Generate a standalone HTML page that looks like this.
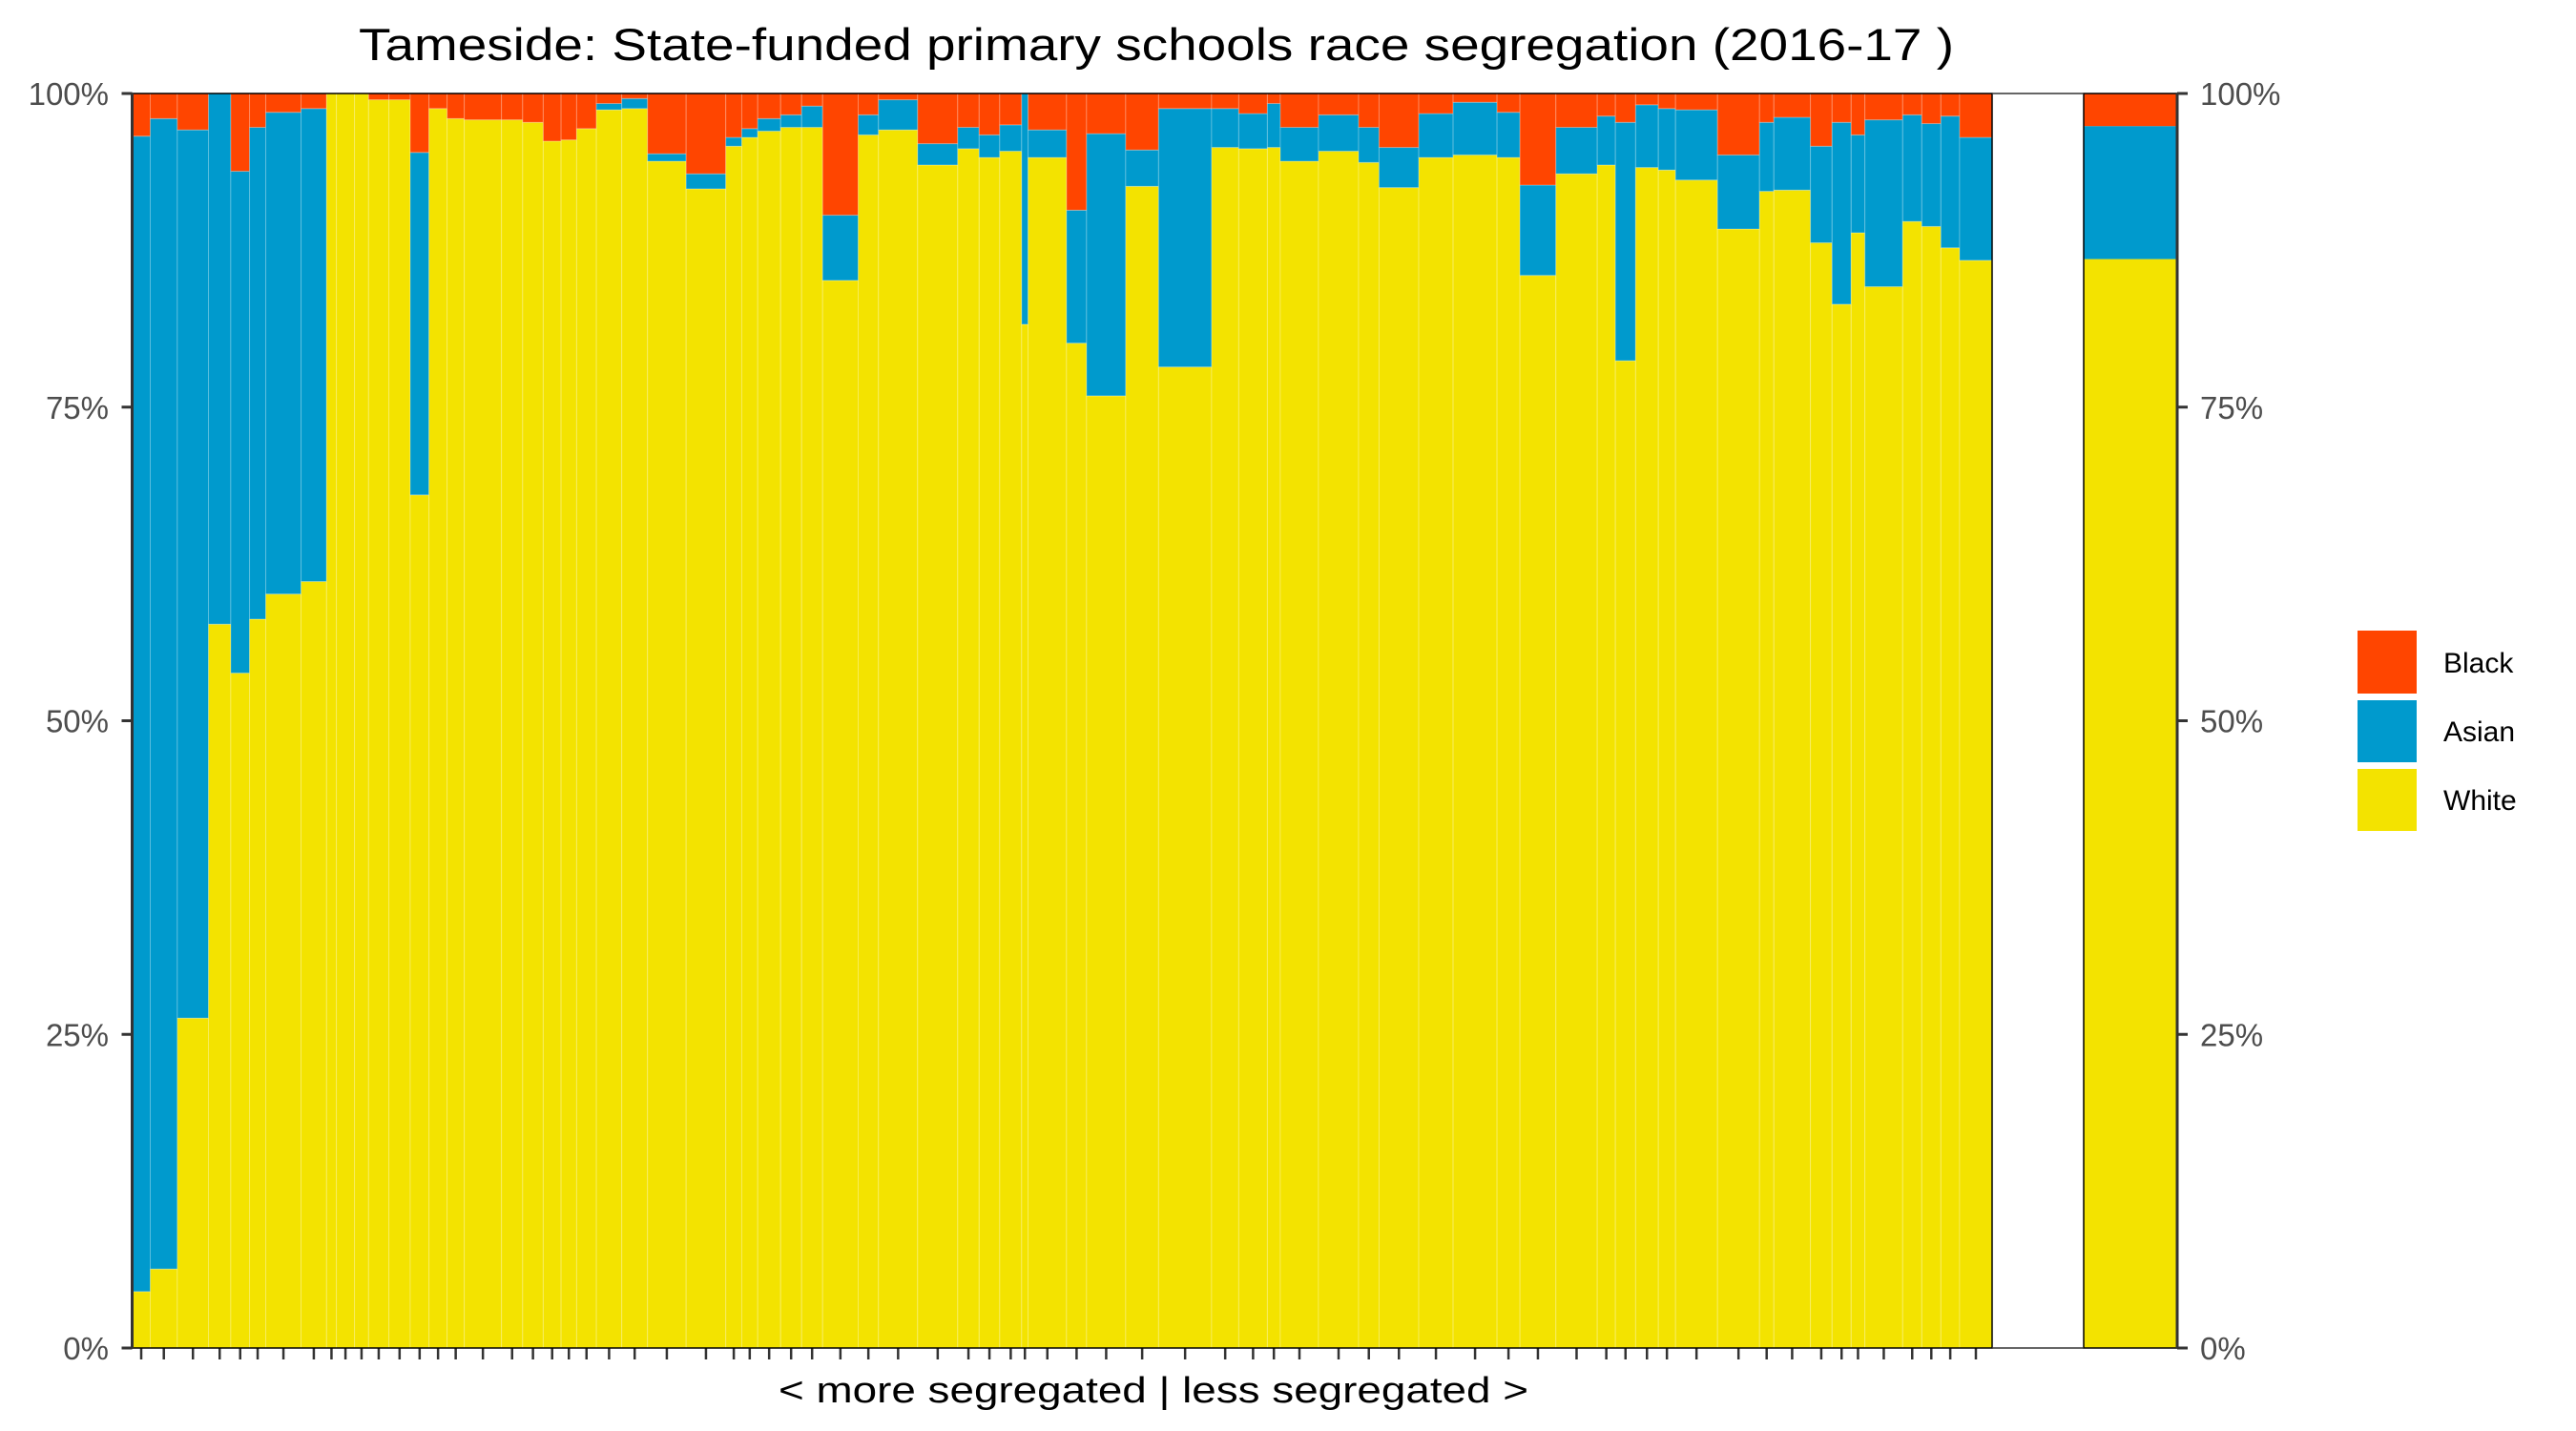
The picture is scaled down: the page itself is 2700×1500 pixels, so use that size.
<!DOCTYPE html>
<html><head><meta charset="utf-8"><title>Tameside segregation</title>
<style>html,body{margin:0;padding:0;background:#fff}svg{display:block}</style></head>
<body>
<svg id="chart" width="2700" height="1500" viewBox="0 0 2700 1500" xmlns="http://www.w3.org/2000/svg" font-family="'Liberation Sans', Arial, sans-serif">
<rect x="0" y="0" width="2700" height="1500" fill="#fff"/>
<text x="1212" y="63" font-size="47" text-anchor="middle" textLength="1672" lengthAdjust="spacingAndGlyphs" fill="#000">Tameside: State-funded primary schools race segregation (2016-17 )</text>
<g id="main"></g>
<g id="overall"></g>
<g id="axes"></g>
<text x="1209" y="1470" font-size="38" text-anchor="middle" textLength="786" lengthAdjust="spacingAndGlyphs" fill="#000">&lt; more segregated | less segregated &gt;</text>
<g>
<rect x="2471" y="661" width="62" height="66" fill="#FF4500"/>
<rect x="2471" y="734" width="62" height="65" fill="#009ACD"/>
<rect x="2471" y="806" width="62" height="65" fill="#F3E300"/>
<text x="2561" y="705" font-size="30" fill="#000">Black</text>
<text x="2561" y="777" font-size="30" fill="#000">Asian</text>
<text x="2561" y="849" font-size="30" fill="#000">White</text>
</g>
</svg>
<script>
const schoolSizes = [19.0,28.4,32.6,23.4,19.6,17.0,37.0,26.7,10.3,19.0,14.7,21.3,22.4,19.6,19.0,18.0,39.0,22.2,21.5,18.7,16.3,20.7,26.6,27.0,40.4,41.6,16.7,16.7,24.0,22.0,22.0,37.3,21.3,41.0,42.0,22.4,21.6,23.0,6.7,40.3,21.0,41.0,34.4,55.6,28.4,30.0,13.6,40.0,42.0,21.4,41.6,36.0,46.0,24.0,37.7,43.3,19.0,21.2,23.8,18.0,44.0,44.0,15.0,38.4,22.6,20.0,14.4,39.6,20.0,20.0,19.7,34.0];
const whitePct = [4.5,6.3,26.3,57.7,53.8,58.1,60.1,61.1,100,100,100,99.5,99.5,68.0,98.8,98.0,97.9,97.9,97.7,96.2,96.3,97.2,98.7,98.8,94.6,92.4,95.8,96.5,97.0,97.3,97.3,85.1,96.7,97.1,94.3,95.6,94.9,95.4,81.6,94.9,80.1,75.9,92.6,78.2,95.7,95.6,95.7,94.6,95.4,94.5,92.5,94.9,95.1,94.9,85.5,93.6,94.3,78.7,94.1,93.9,93.1,89.2,92.2,92.3,88.1,83.2,88.9,84.6,89.8,89.4,87.7,86.7];
const asianPct = [92.1,91.7,70.8,42.3,40.0,39.2,38.4,37.7,0,0,0,0,0,27.3,0,0,0,0,0,0,0,0,0.5,0.8,0.6,1.2,0.7,0.7,1.0,1.0,1.7,5.2,1.6,2.4,1.7,1.7,1.8,2.1,18.4,2.2,10.6,20.9,2.9,20.6,3.1,2.8,3.5,2.7,2.9,2.8,3.2,3.5,4.2,3.6,7.2,3.7,3.9,19.0,5.0,4.9,5.6,5.9,5.5,5.8,7.7,14.5,7.8,13.3,8.5,8.2,10.5,9.8];
const blackPct = [3.4,2.0,2.9,0,6.2,2.7,1.5,1.2,0,0,0,0.5,0.5,4.7,1.2,2.0,2.1,2.1,2.3,3.8,3.7,2.8,0.8,0.4,4.8,6.4,3.5,2.8,2.0,1.7,1.0,9.7,1.7,0.5,4.0,2.7,3.3,2.5,0,2.9,9.3,3.2,4.5,1.2,1.2,1.6,0.8,2.7,1.7,2.7,4.3,1.6,0.7,1.5,7.3,2.7,1.8,2.3,0.9,1.2,1.3,4.9,2.3,1.9,4.2,2.3,3.3,2.1,1.7,2.4,1.8,3.5];
const overallWhite = 86.8;
const overallAsian = 10.6;
const overallBlack = 2.6;
const yTicks = [0,25,50,75,100];
const yTickLabels = ["0%","25%","50%","75%","100%"];

const NS = "http://www.w3.org/2000/svg";
const X0 = 138.5, X1 = 2088, Y0 = 98, Y1 = 1413;
const P2X0 = 2184, P2X1 = 2282;
const COLORS = {white:"#F3E300", asian:"#009ACD", black:"#FF4500"};
function yScale(p){ return Y1 - (p/100)*(Y1-Y0); }
const totalSize = schoolSizes.reduce((a,b)=>a+b,0);
function xScale(cum){ return X0 + (cum/totalSize)*(X1-X0); }
function mk(tag, attrs, parent){
  const el = document.createElementNS(NS, tag);
  for (const k in attrs) el.setAttribute(k, attrs[k]);
  parent.appendChild(el);
  return el;
}
const main = document.getElementById("main");
const overall = document.getElementById("overall");
const axes = document.getElementById("axes");

let cum = 0;
for (let i = 0; i < schoolSizes.length; i++){
  const xa = xScale(cum), xb = xScale(cum + schoolSizes[i]);
  cum += schoolSizes[i];
  const tot = whitePct[i] + asianPct[i] + blackPct[i];
  const segs = [["white", whitePct[i]/tot*100], ["asian", asianPct[i]/tot*100], ["black", blackPct[i]/tot*100]];
  let base = 0;
  for (const [k, v] of segs){
    if (v <= 0) continue;
    const r = mk("rect", {x:xa, y:yScale(base+v), width:xb-xa, height:yScale(base)-yScale(base+v), fill:COLORS[k], stroke:"rgba(255,255,255,0.25)", "stroke-width":1}, main);
    
    
    base += v;
  }
  const t = mk("line", {x1:(xa+xb)/2, x2:(xa+xb)/2, y1:Y1, y2:Y1+12, stroke:"#333", "stroke-width":2.5}, axes);
  
  
}
{
  const tot = overallWhite + overallAsian + overallBlack;
  const segs = [["white", overallWhite/tot*100], ["asian", overallAsian/tot*100], ["black", overallBlack/tot*100]];
  let base = 0;
  for (const [k, v] of segs){
    const r = mk("rect", {x:P2X0, y:yScale(base+v), width:P2X1-P2X0, height:yScale(base)-yScale(base+v), fill:COLORS[k]}, overall);
    
    
    base += v;
  }
}
const b1 = mk("rect", {x:X0, y:Y0, width:X1-X0, height:Y1-Y0, fill:"none", stroke:"#000", "stroke-width":1.5}, axes);


const b2 = mk("rect", {x:P2X0, y:Y0, width:P2X1-P2X0, height:Y1-Y0, fill:"none", stroke:"#000", "stroke-width":1.5}, axes);


const gt = mk("line", {x1:X1, x2:P2X0, y1:Y0, y2:Y0, stroke:"#333", "stroke-width":1.5}, axes);


const gb = mk("line", {x1:X1, x2:P2X0, y1:Y1, y2:Y1, stroke:"#333", "stroke-width":1.5}, axes);


const al = mk("line", {x1:X0, x2:X0, y1:Y0, y2:Y1, stroke:"#333", "stroke-width":3}, axes);


const ar = mk("line", {x1:P2X1, x2:P2X1, y1:Y0, y2:Y1, stroke:"#333", "stroke-width":3}, axes);


for (let i = 0; i < yTicks.length; i++){
  const y = yScale(yTicks[i]);
  const tl = mk("line", {x1:X0-11, x2:X0, y1:y, y2:y, stroke:"#333", "stroke-width":3}, axes);
  
  
  const tr = mk("line", {x1:P2X1, x2:P2X1+11, y1:y, y2:y, stroke:"#333", "stroke-width":3}, axes);
  
  
  const l = mk("text", {x:114, y:y+12, "font-size":33, fill:"#4d4d4d", "text-anchor":"end"}, axes);
  l.textContent = yTickLabels[i];
  
  
  const r = mk("text", {x:2306, y:y+12, "font-size":33, fill:"#4d4d4d", "text-anchor":"start"}, axes);
  r.textContent = yTickLabels[i];
  
  
}
</script>
</body></html>
